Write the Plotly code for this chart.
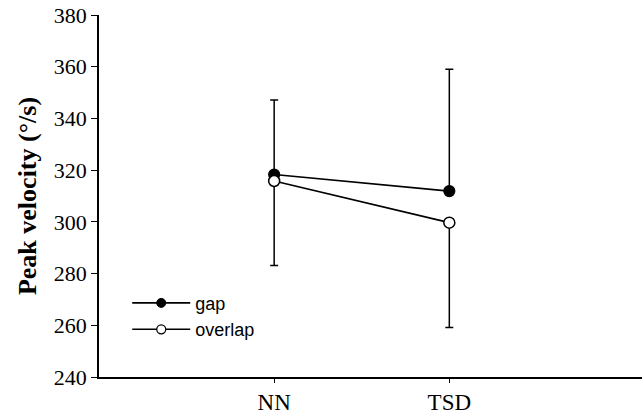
import plotly.graph_objects as go

categories = ["NN", "TSD"]
x_pos = [1, 2]
gap_mean = [318.3, 311.9]
gap_err_up = [28.8, 47.1]
overlap_mean = [315.8, 299.7]
overlap_err_down = [32.7, 40.6]
y_ticks = [240, 260, 280, 300, 320, 340, 360, 380]

serif = "Liberation Serif, Times New Roman, serif"
sans = "Liberation Sans, Arial, sans-serif"

fig = go.Figure()
fig.add_trace(go.Scatter(
    x=x_pos, y=gap_mean, name="gap", mode="lines+markers", showlegend=False,
    line=dict(color="black", width=1.6),
    marker=dict(symbol="circle", size=11, color="black", line=dict(color="black", width=1.2)),
    error_y=dict(type="data", symmetric=False, array=gap_err_up, arrayminus=[0, 0],
                 color="black", thickness=1.5, width=4),
))
fig.add_trace(go.Scatter(
    x=x_pos, y=overlap_mean, name="overlap", mode="lines+markers", showlegend=False,
    line=dict(color="black", width=1.6),
    marker=dict(symbol="circle", size=11, color="white", line=dict(color="black", width=1.5)),
    error_y=dict(type="data", symmetric=False, array=[0, 0], arrayminus=overlap_err_down,
                 color="black", thickness=1.5, width=4),
))
# legend entries with smaller symbols, as in the reference
fig.add_trace(go.Scatter(
    x=[None], y=[None], name="gap", mode="lines+markers",
    line=dict(color="black", width=1.6),
    marker=dict(symbol="circle", size=9, color="black", line=dict(color="black", width=1)),
))
fig.add_trace(go.Scatter(
    x=[None], y=[None], name="overlap", mode="lines+markers",
    line=dict(color="black", width=1.6),
    marker=dict(symbol="circle", size=9, color="white", line=dict(color="black", width=1.3)),
))

fig.update_layout(
    width=642, height=416,
    margin=dict(l=99, r=0, t=15, b=39),
    paper_bgcolor="white", plot_bgcolor="white",
    showlegend=True,
    legend=dict(x=0.052, y=0.255, xanchor="left", yanchor="top",
                font=dict(family=sans, size=18, color="black"),
                bgcolor="rgba(0,0,0,0)", tracegroupgap=0, itemwidth=58),
    xaxis=dict(range=[0, 3.1], tickvals=x_pos, ticktext=categories,
               showline=True, linecolor="black", linewidth=1.6,
               ticks="outside", ticklen=4, tickwidth=1.2, tickcolor="black",
               showgrid=False, zeroline=False,
               tickfont=dict(family=serif, size=23, color="black")),
    yaxis=dict(range=[240, 380], tickvals=y_ticks,
               showline=True, linecolor="black", linewidth=1.6,
               ticks="outside", ticklen=6, tickwidth=1.2, tickcolor="black",
               showgrid=False, zeroline=False,
               tickfont=dict(family=serif, size=22, color="black"),
               title=dict(text="<b>Peak velocity (°/s)</b>", standoff=10,
                          font=dict(family=serif, size=26, color="black"))),
)

fig.write_html("out.html")
